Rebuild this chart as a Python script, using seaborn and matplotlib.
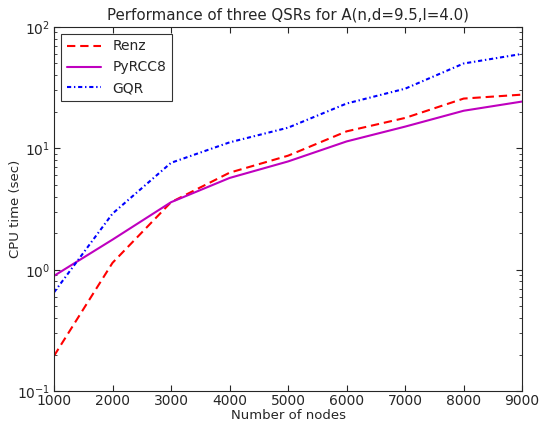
import seaborn as sns
import pandas as pd
import matplotlib.pyplot as plt

nodes = [1000, 2000, 3000, 4000, 5000, 6000, 7000, 8000, 9000]
renz = [0.195, 1.14, 3.6, 6.3, 8.7, 13.8, 17.8, 25.7, 27.7]
pyrcc8 = [0.89, 1.77, 3.6, 5.7, 7.8, 11.4, 15.1, 20.4, 24.3]
gqr = [0.65, 2.9, 7.6, 11.2, 14.8, 23.4, 31.0, 50.0, 60.0]

sns.set_style("ticks")
plt.rcParams.update({
    'font.size': 10,
    'axes.titlesize': 10.8,
    'axes.labelsize': 9.5,
    'xtick.labelsize': 10,
    'ytick.labelsize': 10,
    'legend.fontsize': 10,
    'xtick.direction': 'in',
    'ytick.direction': 'in',
    'xtick.top': True,
    'ytick.right': True,
    'xtick.major.size': 4,
    'ytick.major.size': 4,
    'xtick.minor.size': 2,
    'ytick.minor.size': 2,
    'xtick.major.pad': 2,
    'ytick.major.pad': 3,
    'lines.scale_dashes': False,
    'legend.fancybox': False,
})

data = pd.DataFrame({'nodes': nodes * 3,
                     'time': renz + pyrcc8 + gqr,
                     'solver': ['Renz'] * 9 + ['PyRCC8'] * 9 + ['GQR'] * 9})

fig = plt.figure(figsize=(5.4, 4.21), dpi=100)
ax = fig.add_axes([0.1, 0.071, 0.867, 0.865])

styles = {'Renz': ('red', (6, 3.5)), 'PyRCC8': ('m', None), 'GQR': ('blue', (3, 2, 1, 2))}
for name in ['Renz', 'PyRCC8', 'GQR']:
    col, dash = styles[name]
    sns.lineplot(x='nodes', y='time', data=data[data.solver == name],
                 color=col, linewidth=1.5, label=name, ax=ax)
    if dash is not None:
        ax.lines[-1].set_dashes(dash)

ax.set_yscale('log')
ax.set_xlim(1000, 9000)
ax.set_ylim(0.1, 100)
ax.set_xlabel('Number of nodes', labelpad=1)
ax.set_ylabel('CPU time (sec)', labelpad=-4)
ax.set_title('Performance of three QSRs for A(n,d=9.5,l=4.0)', pad=5)
ax.tick_params(which='both', top=True, right=True, direction='in')
leg = ax.legend(loc='upper left', frameon=True, handlelength=2.5)
leg.get_frame().set_edgecolor('black')
leg.get_frame().set_linewidth(0.8)

fig.savefig('out.png')
